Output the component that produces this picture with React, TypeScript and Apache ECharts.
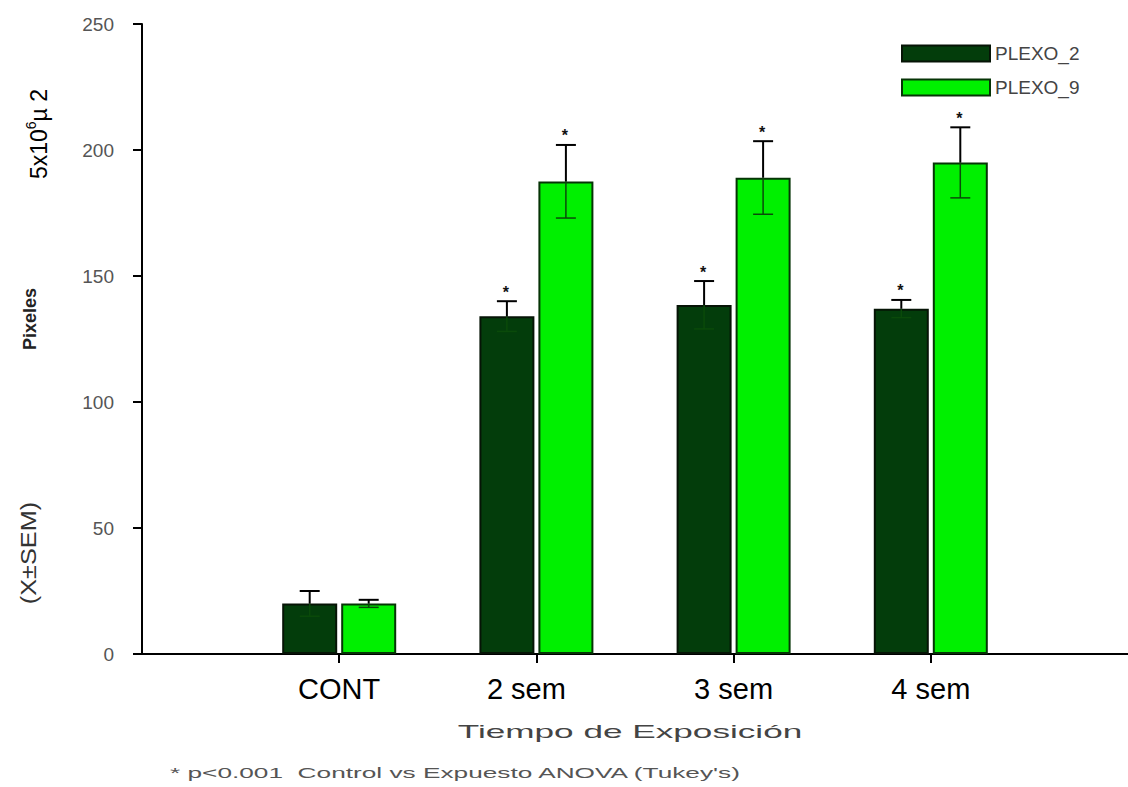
import React, { useEffect, useRef } from "react";
import * as echarts from "echarts";

const categories = ["CONT", "2 sem", "3 sem", "4 sem"];
const seriesNames = ["PLEXO_2", "PLEXO_9"];
const plexo2 = [20, 134, 138.5, 137];
const plexo2Sem = [5, 6, 9.5, 3.5];
const plexo9 = [20, 187.5, 189, 195];
const plexo9Sem = [1.5, 14.5, 14.5, 14];
const significant = [false, true, true, true];
const yMin = 0;
const yMax = 250;
const yInterval = 50;
const footnote = "* p<0.001  Control vs Expuesto ANOVA (Tukey's)";
const xTitle = "Tiempo de Exposición";

const FONT = "'Liberation Sans', Arial, sans-serif";
const BAR_W = 55;
const BAR_GAP_PX = 4;

export default function App() {
  const ref = useRef<HTMLDivElement>(null);
  useEffect(() => {
    if (!ref.current) return;
    const chart = echarts.init(ref.current, null, { renderer: "svg" });
    const axisData = ["", ...categories, ""];
    const pad = (arr: number[]) => [null, ...arr, null];
    const half = (BAR_W + BAR_GAP_PX) / 2;

    const errSeries = (vals: number[], sems: number[], offset: number) => ({
      type: "custom",
      z: 5,
      silent: true,
      data: vals.map((v, i) => [i + 1, v, sems[i], significant[i] ? 1 : 0]),
      renderItem: (params: any, api: any) => {
        const idx = api.value(0);
        const v = api.value(1);
        const s = api.value(2);
        const star = api.value(3);
        const top = api.coord([idx, v + s]);
        const mid = api.coord([idx, v]);
        const bot = api.coord([idx, v - s]);
        const x = top[0] + offset;
        const cap = 10;
        const children: any[] = [
          { type: "line", shape: { x1: x, y1: mid[1], x2: x, y2: bot[1] }, style: { stroke: "#0a4a0a", lineWidth: 1.5 } },
          { type: "line", shape: { x1: x - cap, y1: bot[1], x2: x + cap, y2: bot[1] }, style: { stroke: "#0a4a0a", lineWidth: 1.5 } },
          { type: "line", shape: { x1: x, y1: top[1], x2: x, y2: mid[1] }, style: { stroke: "#000", lineWidth: 2 } },
          { type: "line", shape: { x1: x - cap, y1: top[1], x2: x + cap, y2: top[1] }, style: { stroke: "#000", lineWidth: 2 } },
        ];
        if (star) {
          children.push({ type: "text", x: x - 1, y: top[1] - 9, style: { text: "*", fill: "#111", font: `bold 16px ${FONT}`, align: "center", verticalAlign: "middle" } });
        }
        return { type: "group", children };
      },
    });

    chart.setOption({
      animation: false,
      backgroundColor: "#fff",
      grid: { left: 142, right: 0, top: 24, bottom: 133 },
      legend: {
        data: seriesNames,
        orient: "vertical",
        left: 896,
        top: 39,
        itemWidth: 88,
        itemHeight: 16,
        itemGap: 15,
        icon: "rect",
        textStyle: { color: "#444", fontSize: 19, fontFamily: FONT },
        selectedMode: false,
      },
      xAxis: {
        type: "category",
        data: axisData,
        boundaryGap: false,
        axisLine: { lineStyle: { color: "#000", width: 2 } },
        axisTick: {
          length: 9,
          lineStyle: { color: "#000", width: 2 },
          interval: (i: number) => i >= 1 && i <= categories.length,
        },
        axisLabel: {
          interval: (i: number) => i >= 1 && i <= categories.length,
          margin: 20,
          color: "#000",
          fontSize: 29,
          fontFamily: FONT,
          formatter: (val: string, i: number) => (i === 2 ? `{b|${val}}` : `{a|${val}}`),
          rich: {
            a: { fontSize: 29, fontFamily: FONT, color: "#000" },
            b: { fontSize: 29, fontFamily: FONT, color: "#000", padding: [0, 20, 0, 0] },
          },
        },
        splitLine: { show: false },
      },
      yAxis: {
        type: "value",
        min: yMin,
        max: yMax,
        interval: yInterval,
        axisLine: { show: true, lineStyle: { color: "#000", width: 2 } },
        axisTick: { show: true, length: 9, lineStyle: { color: "#000", width: 2 } },
        axisLabel: { margin: 28, color: "#555", fontSize: 19, fontFamily: FONT },
        splitLine: { show: false },
      },
      series: [
        {
          type: "bar",
          name: seriesNames[0],
          data: pad(plexo2),
          barWidth: BAR_W,
          barGap: `${(BAR_GAP_PX / BAR_W) * 100}%`,
          itemStyle: { color: "#033d0b", borderColor: "#061406", borderWidth: 2 },
        },
        {
          type: "bar",
          name: seriesNames[1],
          data: pad(plexo9),
          barWidth: BAR_W,
          barGap: `${(BAR_GAP_PX / BAR_W) * 100}%`,
          itemStyle: { color: "#00f000", borderColor: "#063406", borderWidth: 2 },
        },
        errSeries(plexo2, plexo2Sem, -half),
        errSeries(plexo9, plexo9Sem, half),
      ],
      graphic: [
        {
          type: "text",
          x: 37,
          y: 134,
          rotation: Math.PI / 2,
          style: {
            text: "{a|5x10}{s|6}{a|µ 2}",
            align: "center",
            verticalAlign: "middle",
            rich: {
              a: { fontSize: 23, fontFamily: FONT, fill: "#000", lineHeight: 26, verticalAlign: "bottom" },
              s: { fontSize: 14, fontFamily: FONT, fill: "#000", lineHeight: 26, verticalAlign: "top" },
            },
          },
        },
        {
          type: "text",
          x: 30,
          y: 319,
          rotation: Math.PI / 2,
          style: { text: "Pixeles", font: `bold 18px ${FONT}`, fill: "#222", align: "center", verticalAlign: "middle" },
        },
        {
          type: "text",
          x: 29,
          y: 553,
          rotation: Math.PI / 2,
          scaleX: 1.15,
          style: { text: "(X±SEM)", font: `22px ${FONT}`, fill: "#333", align: "center", verticalAlign: "middle" },
        },
        {
          type: "text",
          x: 630,
          y: 731,
          scaleX: 1.85,
          style: { text: xTitle, font: `19px ${FONT}`, fill: "#444", align: "center", verticalAlign: "middle" },
        },
        {
          type: "text",
          x: 170,
          y: 773,
          scaleX: 1.75,
          style: { text: footnote, font: `15px ${FONT}`, fill: "#555", align: "left", verticalAlign: "middle" },
        },
      ],
    });
    return () => chart.dispose();
  }, []);
  return <div ref={ref} style={{ position: "absolute", left: 0, top: 0, width: 1128, height: 787 }} />;
}
